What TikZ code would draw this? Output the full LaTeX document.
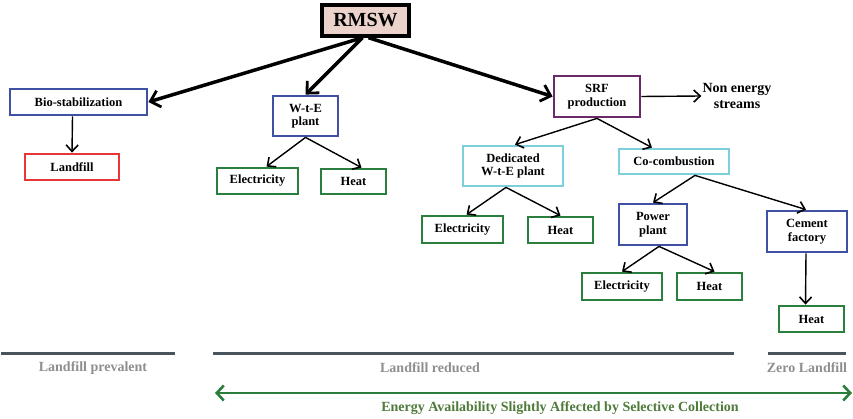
\documentclass[tikz,border=0pt]{standalone}
\usepackage{fontspec}
\setmainfont{Liberation Serif}
\usetikzlibrary{arrows.meta}
\definecolor{bblue}{HTML}{3F51A3}
\definecolor{bred}{HTML}{E8363A}
\definecolor{bgreen}{HTML}{2A7F3E}
\definecolor{bpurple}{HTML}{6A2A68}
\definecolor{bcyan}{HTML}{7CCFDB}
\definecolor{bpink}{HTML}{EBD3CB}
\definecolor{bargray}{HTML}{4A545C}
\definecolor{labgray}{HTML}{8E8E8E}
\definecolor{arrgreen}{HTML}{2B7D3C}
\definecolor{labgreen}{HTML}{4E7A3A}
\tikzset{
  box/.style={draw, line width=2.8pt, fill=white, align=center, inner sep=1pt,
    font=\fontsize{12.5}{13.5}\selectfont\bfseries},
  bluebox/.style={box, draw=bblue},
  redbox/.style={box, draw=bred},
  greenbox/.style={box, draw=bgreen},
  purplebox/.style={box, draw=bpurple},
  cyanbox/.style={box, draw=bcyan},
  thick arr/.style={line width=3.5pt, -{Straight Barb[length=9pt,width=17pt,line width=2.8pt]}},
  thin arr/.style={line width=1.4pt, -{Straight Barb[length=6.5pt,width=12pt,line width=1.6pt]}},
  bar/.style={line width=3pt, draw=bargray},
  barlabel/.style={font=\fontsize{14}{15}\selectfont\bfseries, text=labgray},
}
\begin{document}
\begin{tikzpicture}[x=1pt,y=-1pt]
\useasboundingbox (0,0) rectangle (853,419);

\node[box, fill=bpink, draw=black, line width=3.4pt, minimum width=87pt, minimum height=31pt,
  font=\fontsize{20}{21}\selectfont\bfseries] (rmsw) at (365.5,20.5) {RMSW};

\node[bluebox, minimum width=137pt, minimum height=26pt] (bio) at (78.5,102) {Bio-stabilization};
\node[redbox, minimum width=94pt, minimum height=26pt] (landfill) at (72,167) {Landfill};

\node[bluebox, minimum width=65pt, minimum height=40pt] (wte) at (305.5,116) {W-t-E\\plant};
\node[greenbox, minimum width=81pt, minimum height=26pt] (e1) at (257.5,181) {Electricity};
\node[greenbox, minimum width=65pt, minimum height=25pt] (h1) at (353.5,181.5) {Heat};

\node[purplebox, minimum width=86pt, minimum height=41pt] (srf) at (597,96.5) {SRF\\production};
\node[align=center, inner sep=1pt, font=\fontsize{14}{15.5}\selectfont\bfseries] (non) at (737,96) {Non energy\\streams};

\node[cyanbox, minimum width=100pt, minimum height=40pt] (ded) at (513,166) {Dedicated\\W-t-E plant};
\node[cyanbox, minimum width=110pt, minimum height=25pt] (co) at (674,161.5) {Co-combustion};

\node[greenbox, minimum width=81pt, minimum height=27pt] (e2) at (462.5,229.5) {Electricity};
\node[greenbox, minimum width=65pt, minimum height=26pt] (h2) at (560.5,230) {Heat};

\node[bluebox, minimum width=68pt, minimum height=41pt] (power) at (653,224.5) {Power\\plant};
\node[bluebox, minimum width=80pt, minimum height=41pt] (cement) at (807,231.5) {Cement\\factory};

\node[greenbox, minimum width=80pt, minimum height=27pt] (e3) at (622,286.5) {Electricity};
\node[greenbox, minimum width=65pt, minimum height=27pt] (h3) at (709.5,286.5) {Heat};
\node[greenbox, minimum width=65pt, minimum height=26pt] (h4) at (811.5,319) {Heat};

% thick arrows
\draw[thick arr] ([xshift=-3pt]rmsw.south) -- (bio.east);
\draw[thick arr] ([xshift=-3pt]rmsw.south) -- (wte.north);
\draw[thick arr] ([xshift=3pt]rmsw.south) -- (srf.west);

% thin arrows
\draw[thin arr] ([xshift=-6pt]bio.south) -- ([xshift=0pt]landfill.north);
\draw[thin arr] (wte.south) -- ([xshift=9pt]e1.north);
\draw[thin arr] (wte.south) -- ([xshift=8pt]h1.north);
\draw[thin arr] (srf.east) -- (non.west);
\draw[thin arr] (srf.south) -- ([xshift=2pt]ded.north);
\draw[thin arr] (srf.south) -- ([xshift=-22pt]co.north);
\draw[thin arr] ([xshift=-7pt]ded.south) -- ([xshift=4pt]e2.north);
\draw[thin arr] ([xshift=-7pt]ded.south) -- (h2.north);
\draw[thin arr] ([xshift=21pt]co.south) -- (power.north);
\draw[thin arr] ([xshift=21pt]co.south) -- ([xshift=-1pt]cement.north);
\draw[thin arr] ([xshift=6pt]power.south) -- (e3.north);
\draw[thin arr] ([xshift=6pt]power.south) -- ([xshift=5pt]h3.north);
\draw[thin arr] ([xshift=-1pt]cement.south) -- ([xshift=-6pt]h4.north);

% bottom bars
\coordinate (b1a) at (1,353);
\coordinate (b1b) at (175,353);
\coordinate (b2a) at (213,353);
\coordinate (b2b) at (734,353);
\coordinate (b3a) at (768,353);
\coordinate (b3b) at (846,353);
\draw[bar] (b1a) -- (b1b);
\draw[bar] (b2a) -- (b2b);
\draw[bar] (b3a) -- (b3b);
\node[barlabel] (l1) at (93,368) {Landfill prevalent};
\node[barlabel] (l2) at (430,368) {Landfill reduced};
\node[barlabel] (l3) at (807,368) {Zero Landfill};

\coordinate (ga) at (215,393);
\coordinate (gb) at (852,393);
\draw[line width=2.8pt, draw=arrgreen,
  {Straight Barb[length=7pt,width=15pt,line width=2.6pt]}-{Straight Barb[length=7pt,width=15pt,line width=2.6pt]}] (ga) -- (gb);
\node[font=\fontsize{14}{15}\selectfont\bfseries, text=labgreen] (gl) at (560,408)
  {Energy Availability Slightly Affected by Selective Collection};
\end{tikzpicture}
\end{document}
